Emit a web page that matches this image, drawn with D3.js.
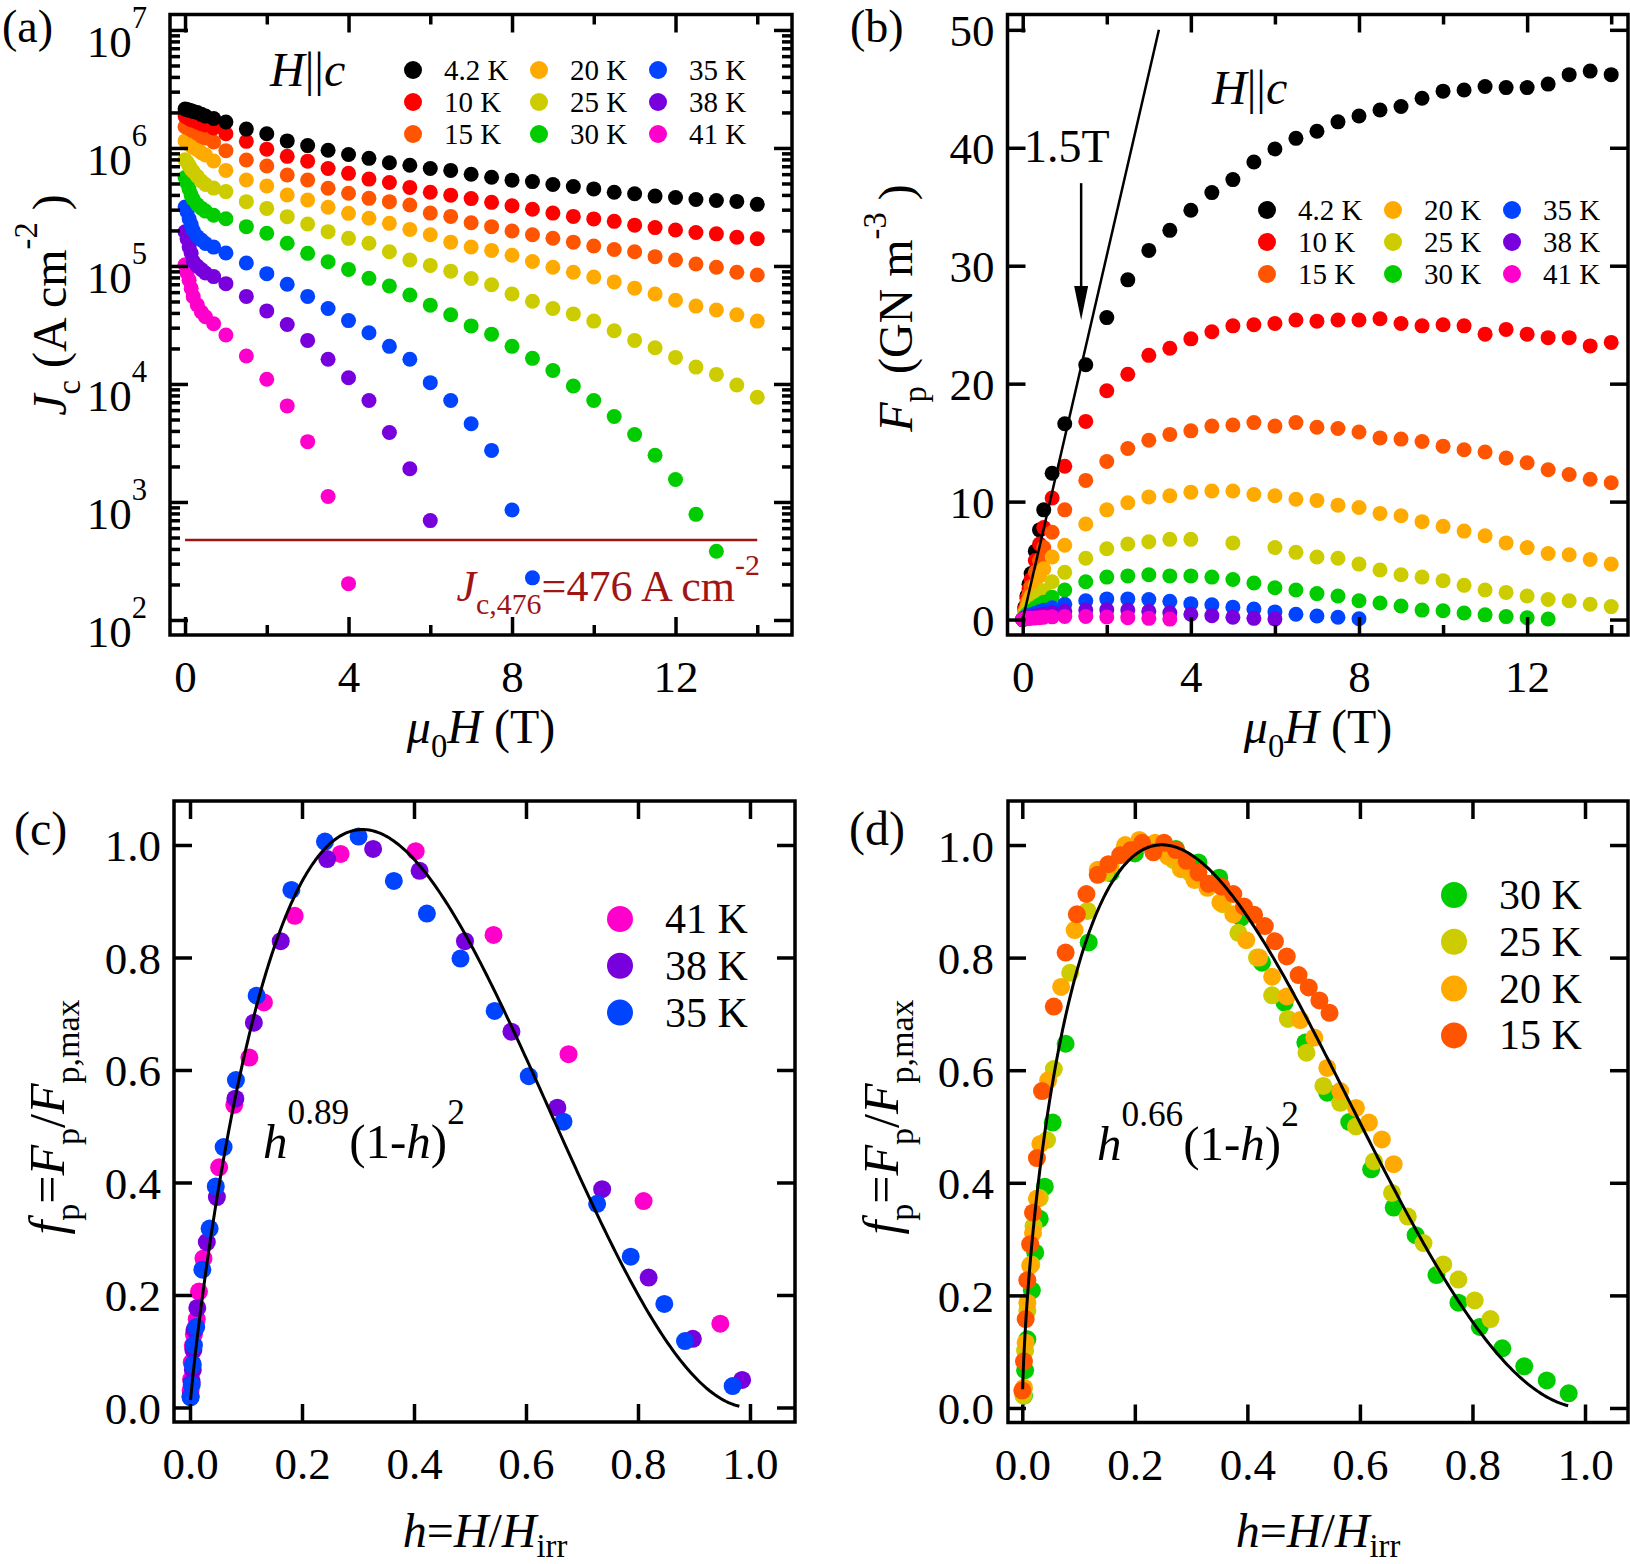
<!DOCTYPE html>
<html>
<head>
<meta charset="utf-8">
<script src="https://cdn.jsdelivr.net/npm/d3@7"></script>
<style>
  body { margin: 0; background: #fff; }
  text { font-family: "Liberation Serif", "Times New Roman", serif; }
</style>
</head>
<body>
<div id="chart"></div>
<script>
// Temperatures and colours (same order in every panel)
const temps = ["4.2 K", "10 K", "15 K", "20 K", "25 K", "30 K", "35 K", "38 K", "41 K"];
const colors = ["#000000", "#ff0000", "#ff5500", "#ffaa00", "#cccc00", "#00cc00", "#0044ff", "#7700dd", "#ff00cc"];

// Applied field mu0H (T), index i of every series below
const fields = [0, 0.05, 0.1, 0.15, 0.2, 0.3, 0.4, 0.5, 0.7, 1, 1.5, 2, 2.5, 3, 3.5, 4, 4.5, 5, 5.5, 6,
  6.5, 7, 7.5, 8, 8.5, 9, 9.5, 10, 10.5, 11, 11.5, 12, 12.5, 13, 13.5, 14];

// (a) log10 of Jc (A cm^-2)
const logJc42 = [6.33, 6.325, 6.32, 6.315, 6.31, 6.30, 6.285, 6.27, 6.25, 6.22, 6.16, 6.12, 6.06, 6.02, 5.98, 5.945, 5.912, 5.875, 5.853, 5.826,
  5.81, 5.777, 5.752, 5.727, 5.715, 5.69, 5.674, 5.653, 5.625, 5.612, 5.592, 5.58, 5.563, 5.555, 5.547, 5.522];
const logJc10 = [6.27, 6.26, 6.25, 6.24, 6.235, 6.22, 6.205, 6.195, 6.17, 6.12, 6.056, 5.99, 5.929, 5.888, 5.826, 5.785, 5.736, 5.707, 5.666, 5.625,
  5.6, 5.571, 5.539, 5.51, 5.481, 5.448, 5.42, 5.399, 5.378, 5.346, 5.325, 5.305, 5.284, 5.272, 5.243, 5.231];
const logJc15 = [6.18, 6.175, 6.165, 6.155, 6.145, 6.125, 6.1, 6.085, 6.05, 5.977, 5.898, 5.847, 5.771, 5.729, 5.658, 5.616, 5.573, 5.545, 5.517, 5.448,
  5.42, 5.366, 5.333, 5.296, 5.264, 5.235, 5.202, 5.169, 5.14, 5.12, 5.079, 5.05, 5.017, 4.989, 4.947, 4.923];
const logJc20 = [6.06, 6.045, 6.03, 6.02, 6.005, 5.985, 5.96, 5.94, 5.89, 5.81, 5.729, 5.678, 5.601, 5.559, 5.497, 5.446, 5.404, 5.361, 5.31, 5.265,
  5.202, 5.161, 5.132, 5.091, 5.038, 4.989, 4.947, 4.906, 4.865, 4.812, 4.763, 4.709, 4.66, 4.627, 4.586, 4.533];
const logJc25 = [5.9, 5.88, 5.85, 5.82, 5.8, 5.76, 5.72, 5.69, 5.66, 5.63, 5.545, 5.488, 5.418, 5.356, 5.291, 5.234, 5.192, 5.121, 5.05, 5.005,
  4.956, 4.894, 4.841, 4.763, 4.701, 4.64, 4.594, 4.533, 4.451, 4.369, 4.307, 4.225, 4.143, 4.081, 3.991, 3.888];
const logJc30 = [5.75, 5.7, 5.65, 5.6, 5.565, 5.52, 5.49, 5.465, 5.43, 5.4, 5.333, 5.277, 5.192, 5.107, 5.036, 4.971, 4.895, 4.83, 4.754, 4.668,
  4.586, 4.492, 4.422, 4.319, 4.217, 4.114, 3.983, 3.86, 3.724, 3.572, 3.396, 3.19, 2.895, 2.583];
const logJc35 = [5.5, 5.46, 5.4, 5.35, 5.3, 5.25, 5.22, 5.19, 5.16, 5.11, 5.025, 4.935, 4.845, 4.742, 4.64, 4.537, 4.434, 4.319, 4.209, 4.011,
  3.86, 3.663, 3.437, 2.932, 2.357];
const logJc38 = [5.29, 5.23, 5.16, 5.11, 5.04, 5.0, 4.97, 4.94, 4.91, 4.85, 4.742, 4.619, 4.504, 4.369, 4.209, 4.053, 3.86, 3.589, 3.281, 2.842];
const logJc41 = [5.01, 4.94, 4.88, 4.81, 4.74, 4.67, 4.61, 4.57, 4.51, 4.415, 4.237, 4.04, 3.814, 3.511, 3.047, 2.308];
const logJcSeries = [logJc42, logJc10, logJc15, logJc20, logJc25, logJc30, logJc35, logJc38, logJc41];
const jcCriterion = 476;

// (b) pinning force Fp (GN m^-3)
const fp42 = [0, 1.06, 2.0, 3.0, 3.9, 5.8, 7.6, 9.3, 12.4, 16.6, 21.6, 25.6, 28.8, 31.3, 33.0, 34.7, 36.2, 37.3, 38.8, 39.9,
  40.8, 41.4, 42.2, 42.7, 43.2, 43.5, 44.2, 44.8, 44.9, 45.2, 45.1, 45.1, 45.4, 46.2, 46.5, 46.2];
const fp10 = [0, 0.92, 1.8, 2.6, 3.4, 5.0, 6.4, 7.8, 10.3, 13.0, 16.8, 19.4, 20.8, 22.4, 23.0, 23.8, 24.4, 24.9, 25.0, 25.1,
  25.4, 25.3, 25.4, 25.4, 25.5, 25.1, 24.9, 25.0, 24.9, 24.2, 24.6, 24.2, 23.9, 23.9, 23.2, 23.5];
const fp15 = [0, 0.75, 1.46, 2.15, 2.8, 4.0, 5.0, 6.1, 7.4, 9.3, 11.8, 13.4, 14.5, 15.2, 15.7, 16.0, 16.4, 16.5, 16.7, 16.4,
  16.7, 16.3, 16.2, 15.9, 15.4, 15.3, 15.1, 14.7, 14.4, 14.2, 13.7, 13.3, 12.7, 12.3, 11.9, 11.6];
const fp20 = [0, 0.57, 1.07, 1.6, 2.0, 2.9, 3.7, 4.3, 5.3, 6.3, 8.1, 9.3, 9.9, 10.4, 10.5, 10.8, 10.9, 10.9, 10.6, 10.5,
  10.2, 10.1, 9.7, 9.5, 9.0, 8.8, 8.3, 7.9, 7.5, 7.1, 6.5, 6.1, 5.6, 5.5, 5.1, 4.7];
const fp25 = [0, 0.38, 0.71, 1.0, 1.26, 1.73, 2.1, 2.45, 3.2, 4.0, 5.2, 6.0, 6.4, 6.6, 6.8, 6.8, null, 6.5, null, 6.1,
  5.7, 5.3, 5.2, 4.7, 4.2, 3.8, 3.6, 3.3, 2.9, 2.5, 2.3, 2.0, 1.7, 1.6, 1.3, 1.1];
const fp30 = [0, 0.25, 0.45, 0.6, 0.73, 1.0, 1.24, 1.46, 1.9, 2.5, 3.2, 3.6, 3.7, 3.8, 3.7, 3.7, 3.6, 3.4, 3.1, 2.7,
  2.5, 2.2, 2.0, 1.6, 1.4, 1.15, 0.8, 0.75, 0.55, 0.4, 0.25, 0.15, 0.05];
const fp35 = [0, 0.16, 0.25, 0.34, 0.4, 0.53, 0.66, 0.78, 1.0, 1.3, 1.6, 1.75, 1.75, 1.7, 1.55, 1.35, 1.25, 1.05, 0.9, 0.65,
  0.45, 0.3, 0.2, 0.07];
const fp38 = [0, 0.1, 0.14, 0.19, 0.22, 0.3, 0.37, 0.44, 0.57, 0.7, 0.8, 0.83, 0.8, 0.7, 0.57, 0.45, 0.33, 0.2, 0.1, 0.04];
const fp41 = [0, 0.05, 0.08, 0.1, 0.11, 0.14, 0.16, 0.19, 0.23, 0.26, 0.26, 0.22, 0.16, 0.1, 0.04];
const fpSeries = [fp42, fp10, fp15, fp20, fp25, fp30, fp35, fp38, fp41];
// linear guide and the 1.5 T arrow in (b)
const guideB = [[0, 0], [3.24, 50]];
const arrowB = { field: 1.39, from: 37.0, to: 25.4 };

// (c) scaled pinning force, [h, fp]
const fc41 = [[0.001, 0.03], [0.002, 0.05], [0.003, 0.08], [0.005, 0.11], [0.007, 0.13], [0.012, 0.157], [0.016, 0.206], [0.024, 0.265],
  [0.052, 0.427], [0.079, 0.538], [0.106, 0.622], [0.132, 0.72], [0.187, 0.874], [0.269, 0.984], [0.403, 0.989], [0.542, 0.84],
  [0.676, 0.628], [0.81, 0.367], [0.947, 0.149]];
const fc38 = [[0.001, 0.02], [0.003, 0.045], [0.005, 0.067], [0.006, 0.102], [0.008, 0.138], [0.013, 0.177], [0.03, 0.294], [0.048, 0.374],
  [0.081, 0.549], [0.114, 0.684], [0.162, 0.829], [0.245, 0.975], [0.327, 0.993], [0.41, 0.954], [0.491, 0.829], [0.574, 0.668],
  [0.656, 0.533], [0.736, 0.388], [0.819, 0.231], [0.898, 0.122], [0.986, 0.049]];
const fc35 = [[0.001, 0.018], [0.003, 0.04], [0.005, 0.076], [0.007, 0.111], [0.011, 0.143], [0.022, 0.245], [0.035, 0.318], [0.046, 0.393],
  [0.06, 0.463], [0.082, 0.582], [0.119, 0.732], [0.181, 0.92], [0.241, 1.006], [0.301, 1.015], [0.364, 0.936], [0.423, 0.878],
  [0.483, 0.798], [0.544, 0.705], [0.605, 0.589], [0.667, 0.508], [0.727, 0.362], [0.787, 0.268], [0.847, 0.184], [0.884, 0.118],
  [0.969, 0.038]];
const legendC = ["41 K", "38 K", "35 K"];
const seriesC = [fc41, fc38, fc35];
const colorsC = ["#ff00cc", "#7700dd", "#0044ff"];
const fitC = { exponent: 0.89, amplitude: 6.12, hStart: 0.001, hEnd: 0.981 };

// (d) scaled pinning force, [h, fp]
const fd30 = [[0.003, 0.022], [0.005, 0.067], [0.009, 0.122], [0.017, 0.209], [0.023, 0.276], [0.031, 0.336], [0.04, 0.393], [0.054, 0.507],
  [0.077, 0.647], [0.118, 0.827], [0.157, 0.95], [0.2, 0.985], [0.235, 1.0], [0.273, 0.993], [0.313, 0.969], [0.35, 0.942],
  [0.389, 0.871], [0.426, 0.791], [0.466, 0.72], [0.503, 0.649], [0.542, 0.56], [0.581, 0.508], [0.62, 0.424], [0.66, 0.356],
  [0.699, 0.307], [0.736, 0.236], [0.775, 0.187], [0.813, 0.144], [0.853, 0.106], [0.892, 0.074], [0.932, 0.049], [0.971, 0.026]];
const fd25 = [[0.002, 0.022], [0.005, 0.102], [0.009, 0.173], [0.016, 0.255], [0.02, 0.323], [0.031, 0.373], [0.044, 0.476], [0.056, 0.602],
  [0.085, 0.773], [0.116, 0.883], [0.148, 0.951], [0.181, 0.993], [0.208, 1.004], [0.241, 1.0], [0.269, 0.973], [0.298, 0.951],
  [0.329, 0.926], [0.356, 0.895], [0.384, 0.844], [0.417, 0.8], [0.444, 0.733], [0.472, 0.691], [0.505, 0.631], [0.535, 0.572],
  [0.565, 0.542], [0.593, 0.5], [0.625, 0.438], [0.657, 0.382], [0.685, 0.34], [0.713, 0.293], [0.748, 0.255], [0.775, 0.228],
  [0.804, 0.191], [0.832, 0.158]];
const fd20 = [[0.003, 0.036], [0.006, 0.116], [0.009, 0.187], [0.014, 0.253], [0.019, 0.311], [0.026, 0.372], [0.032, 0.469], [0.046, 0.582],
  [0.069, 0.748], [0.093, 0.849], [0.134, 0.956], [0.157, 0.964], [0.183, 1.0], [0.208, 1.009], [0.236, 1.004], [0.259, 0.98],
  [0.282, 0.957], [0.306, 0.938], [0.329, 0.924], [0.352, 0.898], [0.375, 0.877], [0.398, 0.831], [0.421, 0.8], [0.444, 0.766],
  [0.47, 0.731], [0.494, 0.689], [0.519, 0.658], [0.542, 0.604], [0.565, 0.563], [0.593, 0.533], [0.616, 0.507], [0.639, 0.477],
  [0.66, 0.433]];
const fd15 = [[0.0, 0.031], [0.003, 0.083], [0.006, 0.158], [0.009, 0.227], [0.014, 0.291], [0.019, 0.347], [0.026, 0.444], [0.035, 0.563],
  [0.056, 0.713], [0.077, 0.809], [0.097, 0.877], [0.114, 0.913], [0.134, 0.947], [0.153, 0.966], [0.174, 0.982], [0.193, 0.991],
  [0.213, 1.004], [0.233, 0.987], [0.252, 1.004], [0.273, 0.991], [0.292, 0.972], [0.313, 0.951], [0.331, 0.931], [0.354, 0.926],
  [0.375, 0.913], [0.394, 0.891], [0.412, 0.876], [0.431, 0.856], [0.449, 0.829], [0.47, 0.802], [0.491, 0.769], [0.509, 0.747],
  [0.528, 0.724], [0.546, 0.702]];
const legendD = ["30 K", "25 K", "20 K", "15 K"];
const seriesD = [fd30, fd25, fd20, fd15];
const colorsD = ["#00cc00", "#cccc00", "#ffaa00", "#ff5500"];
const fitD = { exponent: 0.66, amplitude: 4.44, hStart: 0.0006, hEnd: 0.97 };

// tick values
const fieldMajor = [0, 4, 8, 12];
const fieldMinor = [2, 6, 10, 14];
const jcMajor = [1e2, 1e3, 1e4, 1e5, 1e6, 1e7];
const jcMinor = [2, 3, 4, 5, 6].flatMap(k => [2, 3, 4, 5, 6, 7, 8, 9].map(m => m * Math.pow(10, k)));
const fpMajor = [0, 10, 20, 30, 40, 50];
const hTicks = [0, 0.2, 0.4, 0.6, 0.8, 1.0];

const svg = d3.select("#chart").append("svg")
  .attr("width", 1630).attr("height", 1564);

// Scales, one pair per panel
const xA = d3.scaleLinear().domain([-0.368, 14.85]).range([170, 792]);
const yA = d3.scaleLog().domain([74.6, 1.352e7]).range([635, 14.5]);
const xB = d3.scaleLinear().domain([-0.362, 14.4]).range([1007.5, 1628]);
const yB = d3.scaleLinear().domain([-1.31, 51.3]).range([635, 14.5]);
const xC = d3.scaleLinear().domain([-0.0286, 1.0804]).range([174, 795]);
const yC = d3.scaleLinear().domain([-0.0258, 1.0782]).range([1422, 801]);
const xD = d3.scaleLinear().domain([-0.0254, 1.0764]).range([1008, 1628]);
const yD = d3.scaleLinear().domain([-0.0258, 1.0782]).range([1422.5, 801]);

// text with italic / sub / superscript pieces
function rich(sel, parts, size, o = {}) {
  const sup = o.sup ?? -0.6, sub = o.sub ?? 0.3, small = o.small ?? 0.68;
  let cur = 0;
  parts.forEach(([s, k = ""]) => {
    const off = k.includes("sup") ? sup * size : k.includes("sub") ? sub * size : 0;
    const ts = sel.append("tspan").text(s).attr("dy", off - cur);
    if (off !== 0) ts.attr("font-size", size * small);
    if (k.startsWith("i")) ts.attr("font-style", "italic");
    cur = off;
  });
  return sel;
}
function label(x, y, parts, size, o = {}) {
  const t = svg.append("text").attr("x", x).attr("y", y)
    .attr("font-size", size).attr("text-anchor", o.anchor || "start")
    .attr("fill", o.color || "#000");
  if (o.rotate) t.attr("transform", `rotate(-90,${x},${y})`);
  return rich(t, parts, size, o);
}

// frame with inward ticks on all four sides
function frame(x, y, o) {
  const [xl, xr] = x.range(), [yb, yt] = y.range();
  const g = svg.append("g");
  const sides = [
    { mk: () => d3.axisBottom(x), at: `translate(0,${yb})`, maj: o.xMajor, min: o.xMinor, lab: "x" },
    { mk: () => d3.axisTop(x), at: `translate(0,${yt})`, maj: o.xMajor, min: o.xMinor },
    { mk: () => d3.axisLeft(y), at: `translate(${xl},0)`, maj: o.yMajor, min: o.yMinor, lab: "y" },
    { mk: () => d3.axisRight(y), at: `translate(${xr},0)`, maj: o.yMajor, min: o.yMinor }
  ];
  sides.forEach(s => {
    if (s.min) {
      g.append("g").attr("transform", s.at)
        .call(s.mk().tickValues(s.min).tickSize(-10).tickFormat(""))
        .call(a => a.select(".domain").remove())
        .call(a => a.selectAll(".tick line").attr("stroke-width", 3.5));
    }
    const ax = g.append("g").attr("transform", s.at)
      .call(s.mk().tickValues(s.maj).tickSize(-18)
        .tickFormat(s.lab ? (s.lab === "x" ? o.xFormat : (o.yLog ? () => "" : o.yFormat)) : ""))
      .attr("font-family", null).attr("font-size", null)
      .call(a => a.select(".domain").remove())
      .call(a => a.selectAll(".tick line").attr("stroke-width", 3.5));
    if (s.lab === "x") {
      ax.selectAll(".tick text").attr("y", 57).attr("dy", null).attr("font-size", 45);
    } else if (s.lab === "y") {
      const txt = ax.selectAll(".tick text").attr("x", -o.yGap).attr("dy", null).attr("font-size", 45);
      if (o.yLog) {
        txt.attr("y", 26.5).each(function (d) {
          rich(d3.select(this), [["10"], [String(Math.round(Math.log10(d))), "sup"]], 45, { sup: -0.64, small: 0.68 });
        });
      } else {
        txt.attr("y", 16);
      }
    }
  });
  g.append("rect").attr("x", xl).attr("y", yt).attr("width", xr - xl).attr("height", yb - yt)
    .attr("fill", "none").attr("stroke", "#000").attr("stroke-width", 3.5);
}

// ---------- panel (a) ----------
svg.append("line")
  .attr("x1", xA(0)).attr("x2", xA(14))
  .attr("y1", yA(jcCriterion)).attr("y2", yA(jcCriterion))
  .attr("stroke", "#a01414").attr("stroke-width", 2.5);

logJcSeries.map((s, i) => i).reverse().forEach(i => {
  svg.append("g").selectAll("circle")
    .data(logJcSeries[i].map((v, j) => [fields[j], Math.pow(10, v)]))
    .join("circle")
    .attr("cx", d => xA(d[0])).attr("cy", d => yA(d[1])).attr("r", 7.5)
    .attr("fill", colors[i]);
});
frame(xA, yA, {
  xMajor: fieldMajor, xMinor: fieldMinor, xFormat: d3.format("d"),
  yMajor: jcMajor, yMinor: jcMinor, yLog: true, yGap: 23
});

// ---------- panel (b) ----------
fpSeries.forEach((s, i) => {
  svg.append("g").selectAll("circle")
    .data(s.map((v, j) => [fields[j], v]).filter(d => d[1] !== null))
    .join("circle")
    .attr("cx", d => xB(d[0])).attr("cy", d => yB(d[1])).attr("r", 7.5)
    .attr("fill", colors[i]);
});
svg.append("path").datum(guideB)
  .attr("d", d3.line().x(d => xB(d[0])).y(d => yB(d[1])))
  .attr("fill", "none").attr("stroke", "#000").attr("stroke-width", 2.5);
svg.append("line")
  .attr("x1", xB(arrowB.field)).attr("x2", xB(arrowB.field))
  .attr("y1", yB(arrowB.from)).attr("y2", yB(arrowB.to) - 20)
  .attr("stroke", "#000").attr("stroke-width", 2.5);
svg.append("path")
  .attr("d", `M${xB(arrowB.field) - 7},${yB(arrowB.to) - 34} L${xB(arrowB.field) + 7},${yB(arrowB.to) - 34} L${xB(arrowB.field)},${yB(arrowB.to)} Z`)
  .attr("fill", "#000");
frame(xB, yB, {
  xMajor: fieldMajor, xMinor: fieldMinor, xFormat: d3.format("d"),
  yMajor: fpMajor, yFormat: d3.format("d"), yGap: 13
});

// ---------- panel (c) ----------
function fitCurve(fit) {
  const hs = d3.range(0, 401).map(k => fit.hStart + (fit.hEnd - fit.hStart) * Math.pow(k / 400, 2));
  return hs.map(h => [h, fit.amplitude * Math.pow(h, fit.exponent) * Math.pow(1 - h, 2)]);
}
seriesC.forEach((s, i) => {
  svg.append("g").selectAll("circle").data(s).join("circle")
    .attr("cx", d => xC(d[0])).attr("cy", d => yC(d[1])).attr("r", 9)
    .attr("fill", colorsC[i]);
});
svg.append("path").datum(fitCurve(fitC))
  .attr("d", d3.line().x(d => xC(d[0])).y(d => yC(d[1])))
  .attr("fill", "none").attr("stroke", "#000").attr("stroke-width", 3);
frame(xC, yC, {
  xMajor: hTicks, xFormat: d3.format(".1f"),
  yMajor: hTicks, yFormat: d3.format(".1f"), yGap: 13
});

// ---------- panel (d) ----------
seriesD.forEach((s, i) => {
  svg.append("g").selectAll("circle").data(s).join("circle")
    .attr("cx", d => xD(d[0])).attr("cy", d => yD(d[1])).attr("r", 9)
    .attr("fill", colorsD[i]);
});
svg.append("path").datum(fitCurve(fitD))
  .attr("d", d3.line().x(d => xD(d[0])).y(d => yD(d[1])))
  .attr("fill", "none").attr("stroke", "#000").attr("stroke-width", 3);
frame(xD, yD, {
  xMajor: hTicks, xFormat: d3.format(".1f"),
  yMajor: hTicks, yFormat: d3.format(".1f"), yGap: 14
});

// ---------- legends ----------
function legend3(x0, y0, colX, textX) {
  temps.forEach((t, i) => {
    const c = Math.floor(i / 3), r = i % 3;
    svg.append("circle").attr("cx", x0 + colX[c]).attr("cy", y0 + r * 32).attr("r", 9).attr("fill", colors[i]);
    svg.append("text").attr("x", x0 + colX[c] + textX).attr("y", y0 + r * 32 + 10)
      .attr("font-size", 29).text(t);
  });
}
legend3(0, 70, [413, 539, 658], 31);
legend3(0, 210, [1267, 1393, 1512], 31);

function legendCol(x, y0, names, cols) {
  names.forEach((t, i) => {
    svg.append("circle").attr("cx", x).attr("cy", y0 + i * 46.8).attr("r", 13).attr("fill", cols[i]);
    svg.append("text").attr("x", x + 45).attr("y", y0 + i * 46.8 + 14).attr("font-size", 42).text(t);
  });
}
legendCol(620, 919, legendC, colorsC);
legendCol(1454, 895, legendD, colorsD);

// ---------- texts ----------
label(2, 42, [["(a)"]], 46);
label(850, 42, [["(b)"]], 46);
label(14, 845, [["(c)"]], 48);
label(849, 845, [["(d)"]], 48);

label(270, 86, [["H", "i"], ["||"], ["c", "i"]], 48);
label(1212, 104, [["H", "i"], ["||"], ["c", "i"]], 48);
label(1024, 162, [["1.5T"]], 46);

label(760, 601, [["J", "i"], ["c,476", "sub"], ["=476 A cm"], ["-2", "sup"]], 44,
  { anchor: "end", color: "#a01414", sub: 0.3, sup: -0.6 });

label(481, 743, [["μ", "i"], ["0", "sub"], ["H", "i"], [" (T)"]], 48, { anchor: "middle" });
label(1318, 743, [["μ", "i"], ["0", "sub"], ["H", "i"], [" (T)"]], 48, { anchor: "middle" });
label(66, 305, [["J", "i"], ["c", "sub"], [" (A cm"], ["-2", "sup"], [" )"]], 48, { anchor: "middle", rotate: true });
label(912, 308, [["F", "i"], ["p", "sub"], [" (GN m"], ["-3", "sup"], [" )"]], 48, { anchor: "middle", rotate: true, sup: -0.55 });

const fpTitle = [["f", "i"], ["p", "sub"], ["="], ["F", "i"], ["p", "sub"], ["/"], ["F", "i"], ["p,max", "sub"]];
label(64, 1117, fpTitle, 50, { anchor: "middle", rotate: true });
label(898, 1117, fpTitle, 50, { anchor: "middle", rotate: true });
const hTitle = [["h", "i"], ["="], ["H", "i"], ["/"], ["H", "i"], ["irr", "sub"]];
label(485, 1547, hTitle, 48, { anchor: "middle", sub: 0.2 });
label(1318, 1547, hTitle, 48, { anchor: "middle", sub: 0.2 });

label(263, 1158, [["h", "i"], ["0.89", "sup"], ["(1-"], ["h", "i"], [")"], ["2", "sup"]], 49, { sup: -0.7, small: 0.72 });
label(1097, 1160, [["h", "i"], ["0.66", "sup"], ["(1-"], ["h", "i"], [")"], ["2", "sup"]], 49, { sup: -0.7, small: 0.72 });
</script>
</body>
</html>
